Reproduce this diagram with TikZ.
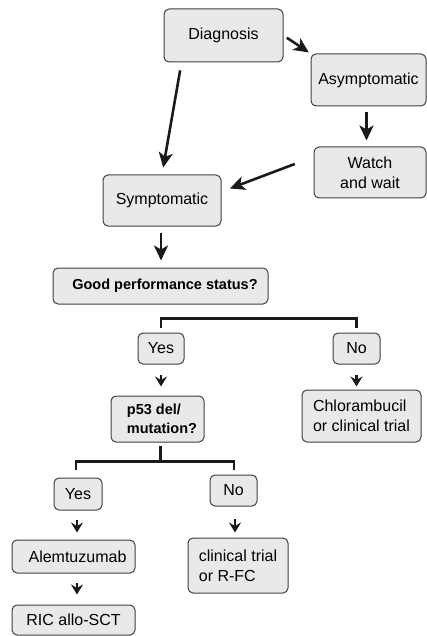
\documentclass[tikz,border=0pt]{standalone}
\usepackage{fontspec}
\setmainfont{Liberation Sans}
\usetikzlibrary{arrows.meta,calc}
\definecolor{boxfill}{HTML}{E9E9E9}
\definecolor{boxline}{HTML}{404040}
\definecolor{arr}{HTML}{1A1A1A}
\tikzset{
  box/.style={draw=boxline, line width=1pt, fill=boxfill, rounded corners=5pt,
    inner sep=0pt, font=\fontsize{16}{20}\selectfont},
  boldbox/.style={box, font=\fontsize{14.5}{19}\selectfont\bfseries},
  bigarrow/.style={draw=arr, line width=2.6pt, -{Stealth[length=15pt,width=14pt,inset=4pt]}},
  smallarrow/.style={draw=arr, line width=2.8pt, -{Stealth[length=10pt,width=12pt,inset=3.5pt]}},
  bracket/.style={draw=arr, line width=2.4pt}
}
\begin{document}
\begin{tikzpicture}[x=1pt,y=-1pt]
\useasboundingbox (0,0) rectangle (427,636);
% boxes
\node[box, minimum width=119pt, minimum height=53pt] (diag) at (223.5,35.5) {Diagnosis};
\node[box, minimum width=115pt, minimum height=52pt] (asym) at (368.5,80) {Asymptomatic};
\node[box, minimum width=112pt, minimum height=51pt, align=center] (watch) at (370,172.5) {Watch\\and wait};
\node[box, minimum width=118pt, minimum height=51pt] (symp) at (162,200.5) {Symptomatic};
\node[boldbox, minimum width=215pt, minimum height=36pt] (good) at (160.5,286) {\hspace{9pt}Good performance status?};
\node[box, minimum width=46pt, minimum height=31pt] (yes1) at (161,348.5) {Yes};
\node[box, minimum width=47pt, minimum height=31pt] (no1) at (356.5,348.5) {No};
\node[boldbox, minimum width=93pt, minimum height=46pt, align=left] (p53) at (157.5,419) {\hspace{9pt}p53 del/\\\hspace{9pt}mutation?};
\node[box, minimum width=119pt, minimum height=52pt, align=left] (chl) at (361.5,416) {Chlorambucil\\or clinical trial};
\node[box, minimum width=48pt, minimum height=32pt] (yes2) at (78,494) {Yes};
\node[box, minimum width=47pt, minimum height=31pt] (no2) at (233.5,490.5) {No};
\node[box, minimum width=123pt, minimum height=33pt] (alem) at (73.5,556.5) {\hspace{8pt}Alemtuzumab};
\node[box, minimum width=123pt, minimum height=30pt] (ric) at (73.5,620) {RIC allo-SCT\hspace{4pt}};
\node[box, minimum width=100pt, minimum height=55pt, align=left] (clin) at (238,565.5) {clinical trial\\or R-FC};
% big arrows
\draw[bigarrow, shorten <=4pt, shorten >=2pt] (diag.east) -- (asym.north west);
\draw[bigarrow, shorten <=8pt, shorten >=7pt] ($(diag.south west)!0.15!(diag.south east)$) -- (symp.north);
\draw[bigarrow, shorten <=6pt, shorten >=6pt] ($(asym.south)+(-2,0)$) -- ($(asym.south |- watch.north)+(-2,0)$);
\draw[bigarrow, shorten <=20pt, shorten >=9pt] ($(watch.north west)!0.2!(watch.south west)$) -- ($(symp.north east)!0.33!(symp.south east)$);
\draw[bigarrow, shorten <=6pt, shorten >=7pt] ($(symp.south)+(-1,0)$) -- ($(symp.south |- good.north)+(-1,0)$);
% brackets
\draw[bracket] ($(yes1.north)+(0,-5)$) -- ++(0,-9) -| ($(no1.north)+(0,-5)$);
\draw[bracket] ($(p53.south)+(3,3)$) -- ++(0,16) coordinate (j2);
\draw[bracket] ($(yes2.north)+(-2,-8)$) |- (j2) -| ($(no2.north)+(0.5,-5)$);
% small arrows
\draw[smallarrow, shorten <=10pt, shorten >=9pt] (yes1.south) -- (yes1.south |- p53.north);
\draw[smallarrow, shorten <=10pt, shorten >=3pt] (no1.south) -- (no1.south |- chl.north);
\draw[smallarrow, shorten <=9pt, shorten >=7pt] ($(yes2.south)+(-1,0)$) -- ($(yes2.south |- alem.north)+(-1,0)$);
\draw[smallarrow, shorten <=9pt, shorten >=10pt] ($(yes2.south |- alem.south)+(-1,0)$) -- ($(yes2.south |- ric.north)+(-1,0)$);
\draw[smallarrow, shorten <=12pt, shorten >=5pt] ($(no2.south)+(1.5,0)$) -- ($(no2.south |- clin.north)+(1.5,0)$);
\end{tikzpicture}
\end{document}
